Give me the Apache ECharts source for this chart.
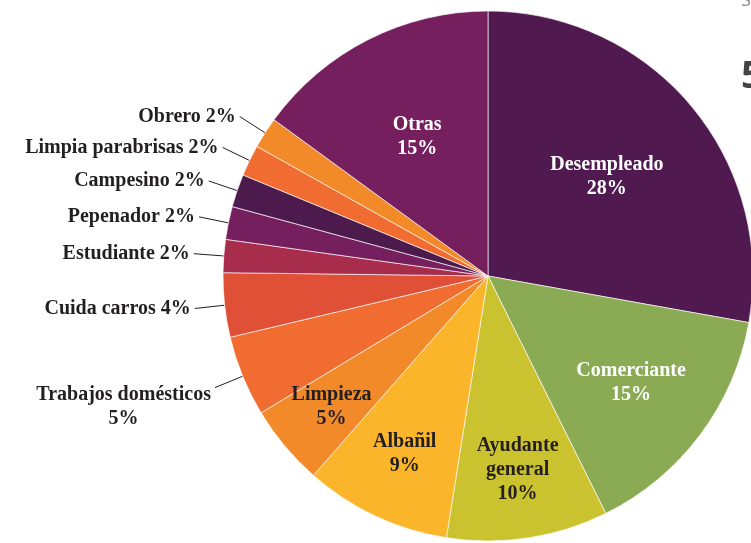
<!DOCTYPE html>
<html>
<head>
<meta charset="utf-8">
<script src="https://cdn.jsdelivr.net/npm/echarts@6/dist/echarts.min.js"></script>
<style>
html,body{margin:0;padding:0;background:#fff;}
#c{width:751px;height:543px;}
</style>
</head>
<body>
<div id="c"></div>
<script>
// ---- data ----
const categories = ['Desempleado','Comerciante','Ayudante general','Albañil','Limpieza','Trabajos domésticos','Cuida carros','Estudiante','Pepenador','Campesino','Limpia parabrisas','Obrero','Otras'];
const values = [27.7, 14.8, 9.8, 8.9, 4.9, 4.9, 3.9, 2.0, 2.0, 2.0, 1.9, 1.9, 14.9];
const labelTexts = ['Desempleado','Comerciante','Ayudante\ngeneral','Albañil','Limpieza','Trabajos domésticos','Cuida carros','Estudiante','Pepenador','Campesino','Limpia parabrisas','Obrero','Otras'];
const labelKinds = ['in','in','in','in','in','out2','out','out','out','out','out','out','in'];
// ---- style ----
const colors = ['#501a50','#8aab53','#cbc22f','#fbb52b','#f28a2a','#f06c30','#df5036','#a82c4c','#761f5f','#4d1a4d','#f06c30','#f28a2a','#761f5f'];
const labelColors = ['#ffffff','#ffffff','#231f20','#231f20','#231f20','#231f20','#231f20','#231f20','#231f20','#231f20','#231f20','#231f20','#ffffff'];
const insideRadius = [0.585,0.675,0.74,0.74,0.77,0,0,0,0,0,0,0,0.59];
const CX = 488, CY = 276, R = 265;
const FONT = '"Liberation Serif", "Times New Roman", serif';

const baseLabel = {
  fontFamily: FONT,
  fontWeight: 'bold',
  fontSize: 20,
  lineHeight: 24
};

function pctText(v) { return Math.round(v) + '%'; }

// main (visible) pie with outside labels
const mainData = categories.map((n, i) => {
  const kind = labelKinds[i];
  const d = {
    name: n,
    value: values[i],
    itemStyle: { color: colors[i] },
    label: { show: kind !== 'in', color: labelColors[i] },
    labelLine: { show: kind !== 'in' }
  };
  if (kind === 'out2') d.label.padding = [38, 0, 0, 0];
  return d;
});

const series = [{
  type: 'pie',
  center: [CX, CY],
  radius: [0, R],
  startAngle: 90,
  clockwise: true,
  avoidLabelOverlap: false,
  data: mainData,
  itemStyle: { borderColor: 'rgba(255,255,255,0.8)', borderWidth: 0.8 },
  label: Object.assign({}, baseLabel, {
    position: 'outside',
    distanceToLabelLine: 4,
    rich: { c: Object.assign({}, baseLabel, { align: 'center', color: '#231f20' }) },
    formatter: function (p) {
      const i = p.dataIndex;
      if (labelKinds[i] === 'out2') return '{c|' + labelTexts[i] + '}\n{c|' + pctText(p.value) + '}';
      return labelTexts[i] + ' ' + pctText(p.value);
    }
  }),
  labelLine: { length: 30, length2: 0, smooth: false, lineStyle: { color: '#231f20', width: 1 } },
  emphasis: { disabled: true },
  silent: true
}];

// invisible pies that only carry the inside labels, one per label radius
const radii = [...new Set(insideRadius.filter(r => r > 0))];
radii.forEach(rf => {
  series.push({
    type: 'pie',
    center: [CX, CY],
    radius: [0, R * rf],
    startAngle: 90,
    clockwise: true,
    avoidLabelOverlap: false,
    silent: true,
    z: 5,
    emphasis: { disabled: true },
    itemStyle: { color: 'rgba(0,0,0,0)', borderWidth: 0 },
    data: categories.map((n, i) => ({
      name: n,
      value: values[i],
      label: { show: insideRadius[i] === rf, color: labelColors[i] },
      labelLine: { show: false }
    })),
    label: Object.assign({}, baseLabel, {
      position: 'outside',
      distanceToLabelLine: 0,
      formatter: function (p) {
        return labelTexts[p.dataIndex] + '\n' + pctText(p.value);
      }
    }),
    labelLine: { show: false, length: 0, length2: 0 },
    labelLayout: function () {
      return { align: 'center', verticalAlign: 'middle' };
    }
  });
});

const chart = echarts.init(document.getElementById('c'), null, {renderer: 'canvas'});
chart.setOption({
  backgroundColor: '#ffffff',
  animation: false,
  series: series,
  graphic: [
    { type: 'text', left: 741, top: -8, style: { text: 'S', font: '18px "Open Sans", sans-serif', fill: '#8a8a8a' } },
    { type: 'text', left: 741, top: 58, style: { text: '5', font: 'bold 38px "Open Sans", sans-serif', fill: '#444' } }
  ]
});
</script>
</body>
</html>
